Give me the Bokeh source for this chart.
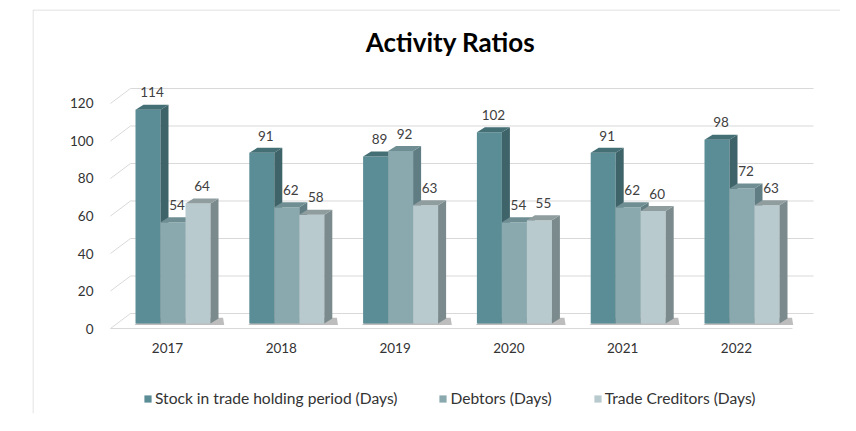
from bokeh.plotting import figure
from bokeh.models import Range1d, FixedTicker, Legend, LegendItem, ColumnDataSource
from bokeh.embed import file_html
from bokeh.resources import INLINE
from bokeh.core.properties import value

# ---------------- data ----------------
title_text = "Activity Ratios"
years = ["2017", "2018", "2019", "2020", "2021", "2022"]
stock = [114, 91, 89, 102, 91, 98]
debtors = [54, 62, 92, 54, 62, 72]
creditors = [64, 58, 63, 55, 60, 63]
series_names = ["Stock in trade holding period (Days)", "Debtors (Days)", "Trade Creditors (Days)"]
y_ticks = [0, 20, 40, 60, 80, 100, 120]

# ---------------- style / pseudo-3D geometry ----------------
front_cols = ["#5b8d96", "#8aa9ae", "#b8cacd"]
side_cols = ["#3e6369", "#5f7d82", "#7b8a8c"]
top_cols = ["#436f75", "#6f8e93", "#8f9d9f"]
BAR_W = 0.2197
GROUP_OFF = -0.2812
DX = 0.0703      # depth in x (data units)
DY = 2.667       # depth in y (data units)
BASE = 2.667     # bar front baseline above front floor edge
WALL_DY = 8.0    # back wall offset
XF_L, XB_L, XF_R, XB_R = -0.5009, -0.325, 5.492, 5.677
YAXIS_AT = -0.5888
XAXIS_AT = -18.6
X0, X1 = -1.1863, 5.9139
Y0, Y1 = -45.33, 170.13
BORDER_X, BORDER_Y = -1.1819, 169.87
TITLE_X, TITLE_Y = 2.4868, 152.6
FONT = "Lato"

p = figure(width=840, height=415, x_axis_location="above",
           x_range=Range1d(X0, X1), y_range=Range1d(Y0, Y1),
           output_backend="svg", toolbar_location=None,
           min_border_left=32, min_border_right=0, min_border_top=9, min_border_bottom=2)
p.outline_line_color = None
p.xgrid.grid_line_color = None
p.ygrid.grid_line_color = None
p.background_fill_color = "white"
p.border_fill_color = "white"

# chart-area border (left and top edges)
p.line([BORDER_X, BORDER_X, X1], [Y0, BORDER_Y, BORDER_Y], line_color="#d9d9d9", line_width=1)

# back wall gridlines + diagonals
gx, gy = [], []
for t in y_ticks:
    gx.append([XF_L, XB_L, XB_R])
    gy.append([t, t + WALL_DY, t + WALL_DY])
p.multi_line(gx, gy, line_color="#d9d9d9", line_width=1)
p.line([XF_L, XF_R], [0, 0], line_color="#d9d9d9", line_width=1)

# bars
series = [stock, debtors, creditors]
fronts = []
for j, vals in enumerate(series):
    x0s = [i + GROUP_OFF + j * BAR_W for i in range(len(years))]
    if j == 0:
        sx, sy = [], []
        for i in range(len(years)):
            a = i + GROUP_OFF
            b = a + 3 * BAR_W + DX + 0.05
            sx.append([a - 0.01, b, b - 0.01, a + DX])
            sy.append([BASE - 0.8, BASE - 0.8, BASE + DY + 0.4, BASE + DY + 0.4])
        p.patches(sx, sy, fill_color="#5a5a5a", fill_alpha=0.4, line_color=None)
    src = ColumnDataSource(dict(left=x0s, right=[x + BAR_W for x in x0s],
                                bottom=[BASE] * len(vals), top=[v + BASE for v in vals]))
    fr = p.quad(left="left", right="right", bottom="bottom", top="top", source=src,
                fill_color=front_cols[j], line_color=None)
    fronts.append(fr)
    side_x, side_y, top_x, top_y = [], [], [], []
    for x0, v in zip(x0s, vals):
        x1 = x0 + BAR_W
        h = v + BASE
        side_x.append([x1, x1 + DX, x1 + DX, x1])
        side_y.append([BASE, BASE + DY, h + DY, h])
        top_x.append([x0, x1, x1 + DX, x0 + DX])
        top_y.append([h, h, h + DY, h + DY])
    p.patches(side_x, side_y, fill_color=side_cols[j], line_color=None)
    p.patches(top_x, top_y, fill_color=top_cols[j], line_color=None)
    lx = [x + BAR_W / 2 + 0.035 for x in x0s]
    ly = [v + BASE + 9.2 for v in vals]
    p.text(lx, ly, text=[str(v) for v in vals], text_align="center", text_baseline="middle",
           text_font=value(FONT), text_font_size="13.5px", text_color="#404040")

# title (drawn inside the chart area)
p.text([TITLE_X], [TITLE_Y], text=[title_text], text_align="center", text_baseline="alphabetic",
       text_font=value(FONT), text_font_size="26px", text_font_style="bold", text_color="#000000")

# axes
p.yaxis.ticker = FixedTicker(ticks=y_ticks)
p.yaxis.fixed_location = YAXIS_AT
p.xaxis.ticker = FixedTicker(ticks=list(range(len(years))))
p.xaxis.major_label_overrides = {i: y for i, y in enumerate(years)}
p.xaxis.fixed_location = XAXIS_AT
for ax in (p.xaxis[0], p.yaxis[0]):
    ax.axis_line_color = None
    ax.major_tick_line_color = None
    ax.minor_tick_line_color = None
    ax.major_label_text_font = FONT
    ax.major_label_text_font_size = "13.5px"
    ax.major_label_text_color = "#333333"
p.yaxis.major_label_standoff = 1
p.xaxis.major_label_standoff = 4

# legend (inside the extended frame, below the categories)
legend = Legend(items=[LegendItem(label=n, renderers=[r]) for n, r in zip(series_names, fronts)],
                orientation="horizontal", location=(111, 6),
                border_line_color=None, background_fill_alpha=0,
                padding=0, margin=0, spacing=41,
                glyph_width=9, glyph_height=9, label_standoff=3,
                label_text_font=FONT, label_text_font_size="15.6px", label_text_color="#333333")
p.add_layout(legend, "center")

open("out.html", "w").write(file_html(p, INLINE))
